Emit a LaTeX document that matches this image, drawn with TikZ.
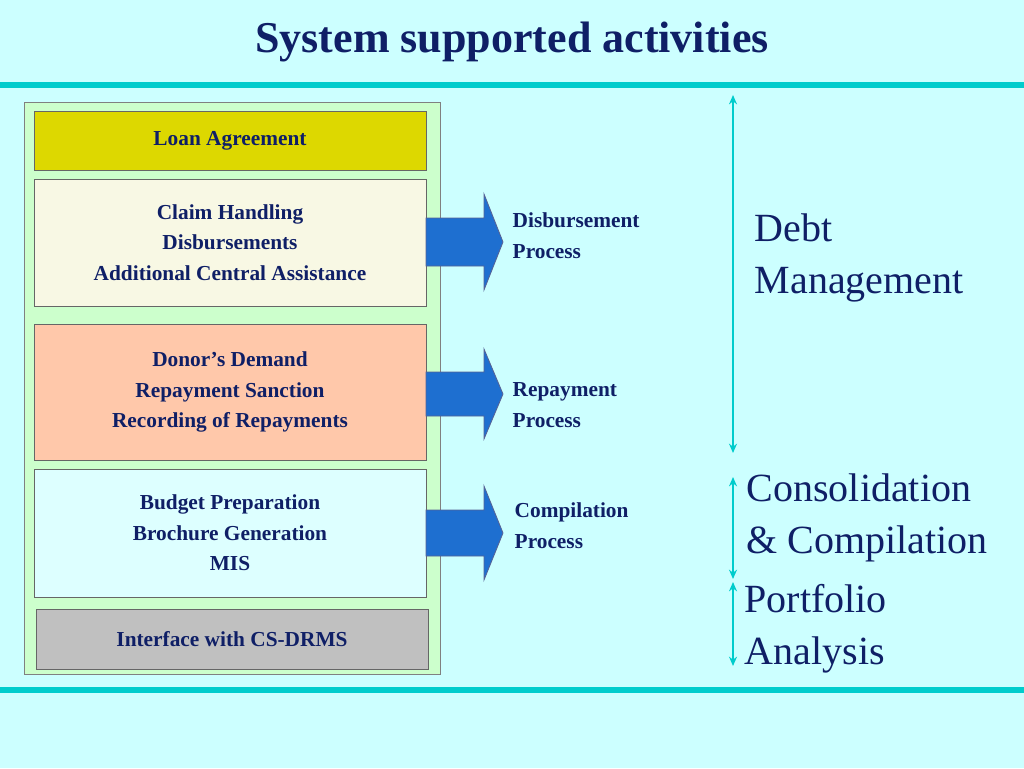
\documentclass[tikz,border=0pt]{standalone}
\usepackage{fontspec}
\setmainfont{Liberation Serif}
\usetikzlibrary{arrows.meta,positioning}
\definecolor{bgcyan}{HTML}{CCFFFF}
\definecolor{rule}{HTML}{00CCCC}
\definecolor{navy}{HTML}{0F1F66}
\definecolor{paneg}{HTML}{CCFFCC}
\definecolor{loanc}{HTML}{DDD800}
\definecolor{claimc}{HTML}{F8F8E4}
\definecolor{donorc}{HTML}{FFC8AA}
\definecolor{budgetc}{HTML}{DDFFFF}
\definecolor{ifacec}{HTML}{C0C0C0}
\definecolor{flowc}{HTML}{1E6FD0}
\tikzset{
    stage/.style={draw=black!60,inner sep=0pt,align=center,text=navy,font=\fontsize{16}{23}\selectfont\bfseries},
    proc/.style={anchor=west,align=left,text=navy,font=\fontsize{16}{23}\selectfont\bfseries},
    area/.style={anchor=west,align=left,text=navy,font=\fontsize{30}{39}\selectfont},
    span/.style={{Stealth[length=7pt,width=6pt]}-{Stealth[length=7pt,width=6pt]},rule,line width=2pt},
    flow/.style={fill=flowc,draw=navy!70,line width=0.6pt}
}
\begin{document}
\begin{tikzpicture}[x=0.75pt,y=-0.75pt]
    \fill[bgcyan] (0,0) rectangle (1024,768);
    \useasboundingbox (0,0) rectangle (1024,768);

    \node (title) at (512,42) [text=navy,font=\fontsize{33}{40}\selectfont\bfseries] {System supported activities};
    \draw[rule,line width=4pt] (0,85) -- (1024,85);
    \draw[rule,line width=4pt] (0,690) -- (1024,690);

    % left pane
    \draw[fill=paneg,draw=black!50] (24,102) rectangle (440,674);
    \node[stage,fill=loanc,minimum width=294pt,minimum height=44pt] (loan) at (230,140.5) {Loan Agreement};
    \node[stage,fill=claimc,minimum width=294pt,minimum height=95pt] (claim) at (230,242.5) {Claim Handling\\Disbursements\\Additional Central Assistance};
    \node[stage,fill=donorc,minimum width=294pt,minimum height=102pt] (donor) at (230,392) {Donor's Demand\\Repayment Sanction\\Recording of Repayments};
    \node[stage,fill=budgetc,minimum width=294pt,minimum height=96pt] (budget) at (230,533) {Budget Preparation\\Brochure Generation\\MIS};
    \node[stage,fill=ifacec,minimum width=294pt,minimum height=45pt] (iface) at (232,639) {Interface with CS-DRMS};

    % block arrows
    \foreach \yc/\hb/\hh in {242/24/48, 394/22/45, 533/23/47} {
        \draw[flow] (426,\yc-\hb) -- (484,\yc-\hb) -- (484,\yc-\hh) -- (503,\yc) -- (484,\yc+\hh)
            -- (484,\yc+\hb) -- (426,\yc+\hb) -- cycle;
    }
    \node[proc] (disb) at (508,236) {Disbursement\\Process};
    \node[proc] (repay) at (508,405) {Repayment\\Process};
    \node[proc] (comp) at (510,526) {Compilation\\Process};

    % spans on the right
    \coordinate (d top) at (733,95);
    \coordinate (d bot) at (733,453);
    \coordinate (c top) at (733,477);
    \coordinate (c bot) at (733,579);
    \coordinate (p top) at (733,582);
    \coordinate (p bot) at (733,666);
    \draw[span] (d top) -- (d bot);
    \draw[span] (c top) -- (c bot);
    \draw[span] (p top) -- (p bot);

    \node[area] (debt) at (750,258) {Debt\\Management};
    \node[area] (cons) at (742,518) {Consolidation\\\& Compilation};
    \node[area] (port) at (740,629) {Portfolio\\Analysis};
\end{tikzpicture}
\end{document}
